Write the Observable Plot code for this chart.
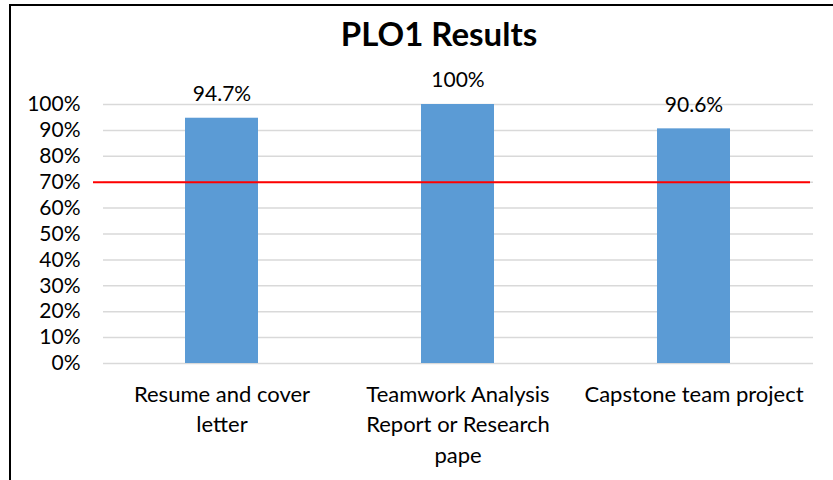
<!DOCTYPE html>
<html>
<head>
<meta charset="utf-8">
<script src="https://cdn.jsdelivr.net/npm/d3@7"></script>
<script src="https://cdn.jsdelivr.net/npm/@observablehq/plot@0.6"></script>
<style>
  html, body { margin: 0; padding: 0; background: #fff; width: 833px; height: 480px; overflow: hidden; }
  #frame { position: absolute; left: 9px; top: 4px; width: 830px; height: 480px;
           border-top: 2px solid #000; border-left: 2px solid #000; overflow: hidden; }
  #title { height: 50px; line-height: 54px; text-align: center; width: 856px; white-space: nowrap;
           font-family: Lato, "Open Sans", sans-serif; font-weight: bold; font-size: 33px; color: #000; }
  svg { display: block; }
</style>
</head>
<body>
<div id="frame">
  <div id="title">PLO1 Results</div>
  <div id="chart"></div>
</div>
<script>
const categories = ["Resume and cover letter", "Teamwork Analysis Report or Research pape", "Capstone team project"];
const tickLabels = ["Resume and cover\nletter", "Teamwork Analysis\nReport or Research\npape", "Capstone team project"];
const values = [0.947, 1.0, 0.906];
const valueLabels = ["94.7%", "100%", "90.6%"];
const target = 0.7;
const yTicks = [0, 0.1, 0.2, 0.3, 0.4, 0.5, 0.6, 0.7, 0.8, 0.9, 1.0];

const data = categories.map((c, i) => ({category: c, value: values[i], label: valueLabels[i]}));

const chart = Plot.plot({
  width: 822,
  height: 424,
  marginLeft: 92,
  marginRight: 20,
  marginTop: 48,
  marginBottom: 117,
  style: {fontFamily: "Lato, 'Open Sans', sans-serif", fontSize: "21px", color: "#000", background: "#fff"},
  x: {domain: categories, paddingInner: 0.69, paddingOuter: 0.345, label: null},
  y: {domain: [0, 1], label: null},
  marks: [
    Plot.ruleY(yTicks, {stroke: "#D9D9D9", strokeWidth: 1.5}),
    Plot.axisY({ticks: yTicks, tickFormat: d3.format(".0%"), tickSize: 0, tickPadding: 23, fontSize: 21, label: null}),
    Plot.axisX({tickSize: 0, tickPadding: 17, fontSize: 22, lineHeight: 1.38, label: null,
      tickFormat: (d) => tickLabels[categories.indexOf(d)]}),
    Plot.barY(data, {x: "category", y: "value", fill: "#5B9BD5"}),
    Plot.ruleY([target], {stroke: "#FF0000", strokeWidth: 2, insetLeft: -10, insetRight: 3}),
    Plot.text(data, {x: "category", y: "value", text: "label", dy: -24, fontSize: 21, fill: "#000"})
  ]
});
document.getElementById("chart").appendChild(chart);
</script>
</body>
</html>
